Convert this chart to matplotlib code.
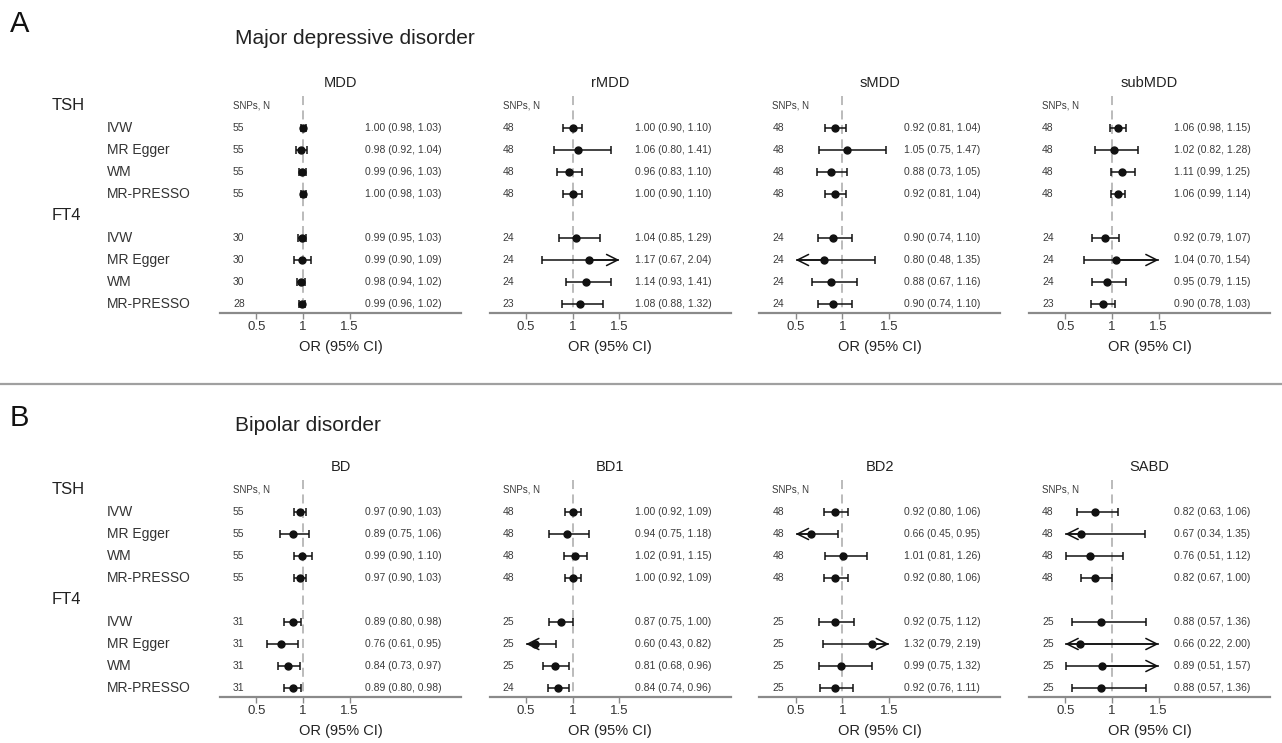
import matplotlib
matplotlib.use("Agg")
import matplotlib.pyplot as plt
from matplotlib.lines import Line2D
import matplotlib.transforms as mtransforms

plt.rcParams['font.family'] = ['Liberation Sans', 'DejaVu Sans']

# ---------------- data ----------------
exposures = ['TSH', 'FT4']
methods = ['IVW', 'MR Egger', 'WM', 'MR-PRESSO']
mdd_outcomes = ['MDD', 'rMDD', 'sMDD', 'subMDD']
bd_outcomes = ['BD', 'BD1', 'BD2', 'SABD']
section_letters = ['A', 'B']
section_titles = ['Major depressive disorder', 'Bipolar disorder']
xticks = [0.5, 1, 1.5]
xtick_labels = ['0.5', '1', '1.5']
display_min, display_max = 0.5, 1.5

# order in each list: TSH (IVW, MR Egger, WM, MR-PRESSO), FT4 (IVW, MR Egger, WM, MR-PRESSO)
MDD_snps = [55, 55, 55, 55, 30, 30, 30, 28]
MDD_or = [1.00, 0.98, 0.99, 1.00, 0.99, 0.99, 0.98, 0.99]
MDD_lo = [0.98, 0.92, 0.96, 0.98, 0.95, 0.90, 0.94, 0.96]
MDD_hi = [1.03, 1.04, 1.03, 1.03, 1.03, 1.09, 1.02, 1.02]

rMDD_snps = [48, 48, 48, 48, 24, 24, 24, 23]
rMDD_or = [1.00, 1.06, 0.96, 1.00, 1.04, 1.17, 1.14, 1.08]
rMDD_lo = [0.90, 0.80, 0.83, 0.90, 0.85, 0.67, 0.93, 0.88]
rMDD_hi = [1.10, 1.41, 1.10, 1.10, 1.29, 2.04, 1.41, 1.32]

sMDD_snps = [48, 48, 48, 48, 24, 24, 24, 24]
sMDD_or = [0.92, 1.05, 0.88, 0.92, 0.90, 0.80, 0.88, 0.90]
sMDD_lo = [0.81, 0.75, 0.73, 0.81, 0.74, 0.48, 0.67, 0.74]
sMDD_hi = [1.04, 1.47, 1.05, 1.04, 1.10, 1.35, 1.16, 1.10]

subMDD_snps = [48, 48, 48, 48, 24, 24, 24, 23]
subMDD_or = [1.06, 1.02, 1.11, 1.06, 0.92, 1.04, 0.95, 0.90]
subMDD_lo = [0.98, 0.82, 0.99, 0.99, 0.79, 0.70, 0.79, 0.78]
subMDD_hi = [1.15, 1.28, 1.25, 1.14, 1.07, 1.54, 1.15, 1.03]

BD_snps = [55, 55, 55, 55, 31, 31, 31, 31]
BD_or = [0.97, 0.89, 0.99, 0.97, 0.89, 0.76, 0.84, 0.89]
BD_lo = [0.90, 0.75, 0.90, 0.90, 0.80, 0.61, 0.73, 0.80]
BD_hi = [1.03, 1.06, 1.10, 1.03, 0.98, 0.95, 0.97, 0.98]

BD1_snps = [48, 48, 48, 48, 25, 25, 25, 24]
BD1_or = [1.00, 0.94, 1.02, 1.00, 0.87, 0.60, 0.81, 0.84]
BD1_lo = [0.92, 0.75, 0.91, 0.92, 0.75, 0.43, 0.68, 0.74]
BD1_hi = [1.09, 1.18, 1.15, 1.09, 1.00, 0.82, 0.96, 0.96]

BD2_snps = [48, 48, 48, 48, 25, 25, 25, 25]
BD2_or = [0.92, 0.66, 1.01, 0.92, 0.92, 1.32, 0.99, 0.92]
BD2_lo = [0.80, 0.45, 0.81, 0.80, 0.75, 0.79, 0.75, 0.76]
BD2_hi = [1.06, 0.95, 1.26, 1.06, 1.12, 2.19, 1.32, 1.11]

SABD_snps = [48, 48, 48, 48, 25, 25, 25, 25]
SABD_or = [0.82, 0.67, 0.76, 0.82, 0.88, 0.66, 0.89, 0.88]
SABD_lo = [0.63, 0.34, 0.51, 0.67, 0.57, 0.22, 0.51, 0.57]
SABD_hi = [1.06, 1.35, 1.12, 1.00, 1.36, 2.00, 1.57, 1.36]

panel_data = {
    'MDD': (MDD_snps, MDD_or, MDD_lo, MDD_hi),
    'rMDD': (rMDD_snps, rMDD_or, rMDD_lo, rMDD_hi),
    'sMDD': (sMDD_snps, sMDD_or, sMDD_lo, sMDD_hi),
    'subMDD': (subMDD_snps, subMDD_or, subMDD_lo, subMDD_hi),
    'BD': (BD_snps, BD_or, BD_lo, BD_hi),
    'BD1': (BD1_snps, BD1_or, BD1_lo, BD1_hi),
    'BD2': (BD2_snps, BD2_or, BD2_lo, BD2_hi),
    'SABD': (SABD_snps, SABD_or, SABD_lo, SABD_hi),
}
sections = [mdd_outcomes, bd_outcomes]

# ---------------- layout ----------------
W, H = 1282, 743
fig = plt.figure(figsize=(W / 100, H / 100), dpi=100)

ROW = 22.0
row0_px = [106, 490]
letter_y = [24, 418]
title_y = [38, 425]
px_per_unit = 93.3
left_off, right_off = 83, 158
x_one = [303, 572.7, 842.4, 1112]
XMIN = 1 - left_off / px_per_unit
XMAX = 1 + right_off / px_per_unit
TOP_R, BOT_R = -0.6, 9.4

TXT = '#3a3a3a'
GRAY_AX = '#8a8a8a'


def row_of(k):
    e, i = divmod(k, 4)
    return 1 + e * 5 + i


for s, outcomes in enumerate(sections):
    r0 = row0_px[s]
    # section letter and title
    fig.text(10 / W, 1 - letter_y[s] / H, section_letters[s], fontsize=21,
             ha='left', va='center', color='#111')
    fig.text(235 / W, 1 - title_y[s] / H, section_titles[s], fontsize=15,
             ha='left', va='center', color='#222')
    # row labels
    for e, exp in enumerate(exposures):
        y = r0 + e * 5 * ROW
        fig.text(52 / W, 1 - y / H, exp, fontsize=12, ha='left',
                 va='center', color='#222')
        for i, m in enumerate(methods):
            yy = r0 + (e * 5 + 1 + i) * ROW
            fig.text(107 / W, 1 - yy / H, m, fontsize=10, ha='left',
                     va='center', color='#333')

    top_px = r0 + TOP_R * ROW
    h_px = (BOT_R - TOP_R) * ROW
    for j, oc in enumerate(outcomes):
        left_px = x_one[j] - left_off
        w_px = left_off + right_off
        ax = fig.add_axes([left_px / W, 1 - (top_px + h_px) / H, w_px / W, h_px / H])
        ax.set_xlim(XMIN, XMAX)
        ax.set_ylim(BOT_R, TOP_R)
        ax.patch.set_alpha(0)
        for sp in ['top', 'right', 'left']:
            ax.spines[sp].set_visible(False)
        ax.spines['bottom'].set_color(GRAY_AX)
        ax.spines['bottom'].set_linewidth(1.6)
        ax.set_yticks([])
        ax.set_xticks(xticks)
        ax.set_xticklabels(xtick_labels)
        ax.tick_params(axis='x', length=4, width=1.0, color=GRAY_AX,
                       labelsize=9.5, labelcolor='#333', pad=2)

        # reference line at 1
        ax.plot([1, 1], [-0.45, BOT_R], color='#b5b5b5', lw=1.3,
                ls=(0, (5, 3)), zorder=1)

        # panel title
        ax.text((XMIN + XMAX) / 2, -1.05, oc, fontsize=10.5, color='#222',
                ha='center', va='center', clip_on=False)

        tr = mtransforms.offset_copy(ax.transAxes, fig=fig, x=0, y=-34 * 0.72, units='points')
        ax.text(0.5, 0, 'OR (95% CI)', transform=tr, ha='center', va='center',
                fontsize=10.5, color='#222')

        ax.text(0.25, 0, 'SNPs, N', fontsize=7, ha='left', va='center', color=TXT)

        snps, ors, los, his = panel_data[oc]
        for k in range(8):
            r = row_of(k)
            o, lo, hi = ors[k], los[k], his[k]
            ax.text(0.25, r, str(snps[k]), fontsize=7.5, ha='left', va='center', color=TXT)
            ax.text(1.665, r, f"{o:.2f} ({lo:.2f}, {hi:.2f})", fontsize=7.5,
                    ha='left', va='center', color=TXT)
            lo_c = max(lo, display_min)
            hi_c = min(hi, display_max)
            ax.plot([lo_c, hi_c], [r, r], color='#111', lw=1.1, zorder=3,
                    solid_capstyle='butt')
            if lo >= display_min:
                ax.plot([lo], [r], marker='|', ms=5.5, mew=1.1, color='#111', zorder=3)
            else:
                ax.annotate('', xy=(display_min, r), xytext=(o, r),
                            arrowprops=dict(arrowstyle='->', lw=1.1, color='#111',
                                            mutation_scale=20, shrinkA=0, shrinkB=0),
                            zorder=3)
            if hi <= display_max:
                ax.plot([hi], [r], marker='|', ms=5.5, mew=1.1, color='#111', zorder=3)
            else:
                ax.annotate('', xy=(display_max, r), xytext=(o, r),
                            arrowprops=dict(arrowstyle='->', lw=1.1, color='#111',
                                            mutation_scale=20, shrinkA=0, shrinkB=0),
                            zorder=3)
            ax.plot([o], [r], marker='o', ms=5, color='#111', zorder=4)

# separator between sections
fig.add_artist(Line2D([0, 1], [1 - 384 / H, 1 - 384 / H], color='#a0a0a0', lw=1.6))

fig.savefig('out.png', dpi=100, facecolor='white')
